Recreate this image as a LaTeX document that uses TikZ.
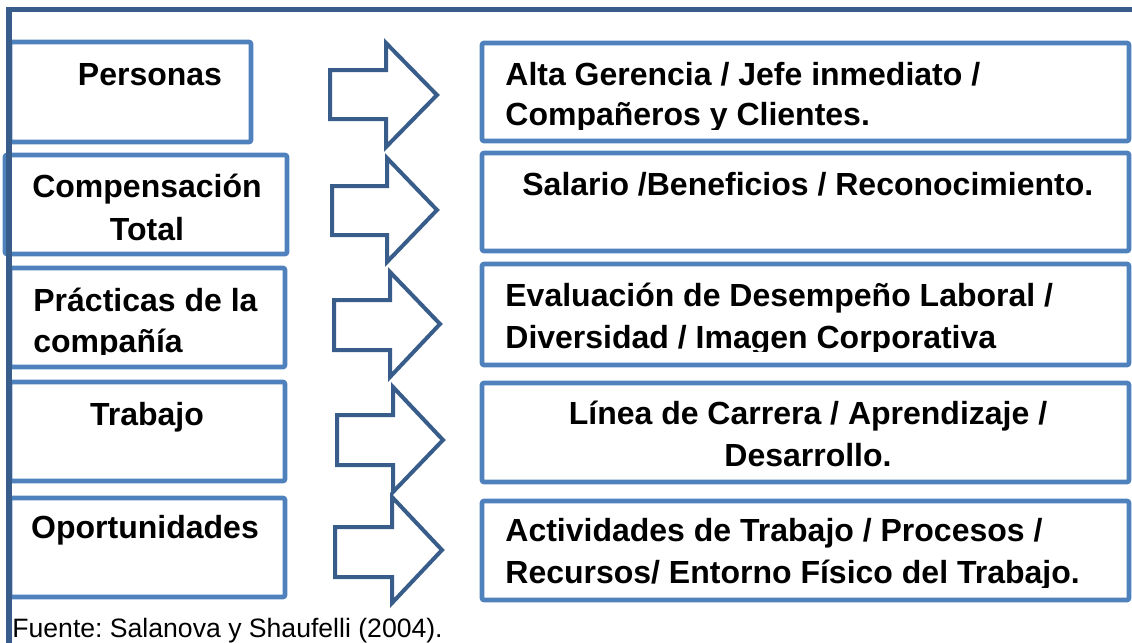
\documentclass[tikz,border=0pt]{standalone}
\usepackage{fontspec}
\setmainfont{Liberation Sans}
\usetikzlibrary{fit}
\definecolor{frameblue}{HTML}{385D8A}
\definecolor{boxblue}{HTML}{4F81BD}
\frenchspacing
\begin{document}
\begin{tikzpicture}[x=0.5pt,y=-0.5pt,
  box/.style={draw=boxblue, line width=2.3pt, rounded corners=1pt, inner sep=0pt, fill=white},
  blockarrow/.style={draw=frameblue, line width=2pt, line join=miter, fill=white},
  frameline/.style={draw=frameblue, line width=2.8pt},
  lbl/.style={font=\fontsize{16}{19}\selectfont\bfseries, inner sep=0pt, anchor=base},
  lbll/.style={lbl, anchor=base west},
  src/.style={font=\fontsize{13.3}{15}\selectfont, inner sep=0pt, anchor=base west}]
\useasboundingbox (0,0) rectangle (1132,643);

% left boxes
\node[box, fit={(10,42) (251,142)}] (L1) {};
\node[box, fit={(5,155) (287,254)}] (L2) {};
\node[box, fit={(10,268) (285,367)}] (L3) {};
\node[box, fit={(10,382) (285,481)}] (L4) {};
\node[box, fit={(10,498) (285,597)}] (L5) {};

% right boxes
\node[box, fit={(482,43) (1129,141)}] (R1) {};
\node[box, fit={(482,153) (1129,251)}] (R2) {};
\node[box, fit={(482,264) (1129,365)}] (R3) {};
\node[box, fit={(482,383) (1129,482)}] (R4) {};
\node[box, fit={(482,501) (1129,600)}] (R5) {};

% left texts
\node[lbl] (tL1) at (150,85) {Personas};
\node[lbl] (tL2a) at (147,197) {Compensación};
\node[lbl] (tL2b) at (147,240) {Total};
\node[lbll] (tL3a) at (33,311) {Prácticas de la};
\begin{scope}
  \clip (10,268) rectangle (285,354);
  \node[lbll] (tL3b) at (33,352) {compañía};
\end{scope}
\node[lbl] (tL4) at (147,425) {Trabajo};
\node[lbl] (tL5) at (145,538) {Oportunidades};

% right texts
\node[lbll] (tR1a) at (505,85) {Alta Gerencia / Jefe inmediato /};
\begin{scope}
  \clip (482,43) rectangle (1129,129);
  \node[lbll] (tR1b) at (505,125) {Compañeros y Clientes.};
\end{scope}
\node[lbll] (tR2) at (522,195) {Salario /Beneficios / Reconocimiento.};
\node[lbll] (tR3a) at (505,306) {Evaluación de Desempeño Laboral /};
\begin{scope}
  \clip (482,264) rectangle (1129,351);
  \node[lbll] (tR3b) at (505,348) {Diversidad / Imagen Corporativa};
\end{scope}
\node[lbl] (tR4a) at (808,424) {Línea de Carrera / Aprendizaje /};
\node[lbl] (tR4b) at (808,466) {Desarrollo.};
\node[lbll] (tR5a) at (505,541) {Actividades de Trabajo / Procesos /};
\begin{scope}
  \clip (482,501) rectangle (1129,587);
  \node[lbll] (tR5b) at (505,583) {Recursos/ Entorno Físico del Trabajo.};
\end{scope}

% block arrows
\draw[blockarrow] (330,70) -- (386,70) -- (386,43) -- (437,95) -- (386,147) -- (386,119) -- (330,119) -- cycle;
\draw[blockarrow] (332,186) -- (387,186) -- (387,158) -- (437,210) -- (387,262) -- (387,235) -- (332,235) -- cycle;
\draw[blockarrow] (334,300) -- (390,300) -- (390,272) -- (440,324) -- (390,377) -- (390,350) -- (334,350) -- cycle;
\draw[blockarrow] (337,415) -- (393,415) -- (393,387) -- (443,440) -- (393,492) -- (393,465) -- (337,465) -- cycle;
\draw[blockarrow] (335,527) -- (392,527) -- (392,497) -- (442,550) -- (392,603) -- (392,577) -- (335,577) -- cycle;

% outer frame
\coordinate (fb) at (9,643);
\coordinate (fc) at (9,9.5);
\coordinate (fr) at (1132,9.5);
\draw[frameline] (fb) -- (fc) -- (fr);

% source
\node[src] (fuente) at (12,637) {Fuente: Salanova y Shaufelli (2004).};
\end{tikzpicture}
\end{document}
